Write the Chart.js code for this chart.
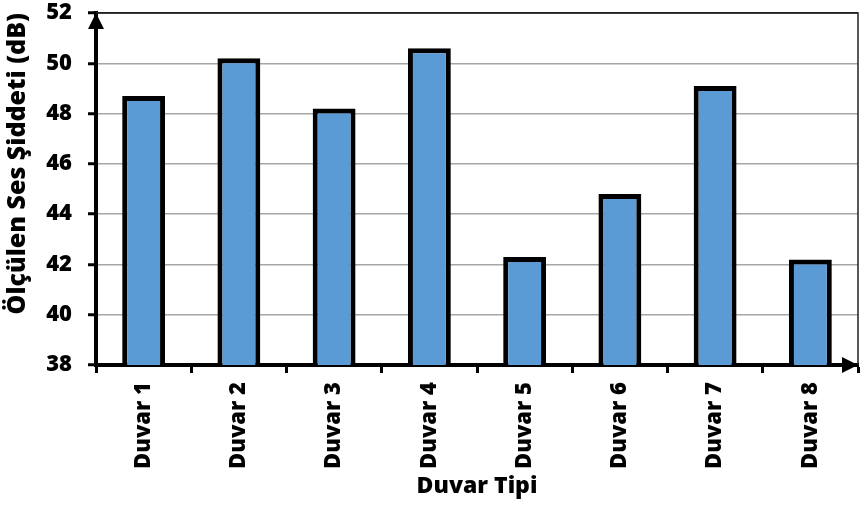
<!DOCTYPE html>
<html>
<head>
<meta charset="utf-8">
<script src="https://cdn.jsdelivr.net/npm/chart.js@4.4.1/dist/chart.umd.min.js"></script>
<style>
  html, body { margin: 0; padding: 0; background: #fff; }
  #wrap { width: 861px; height: 505px; }
</style>
</head>
<body>
<div id="wrap"><canvas id="c" width="861" height="505"></canvas></div>
<script>
// Measured sound level per wall type
const categories = ['Duvar 1', 'Duvar 2', 'Duvar 3', 'Duvar 4', 'Duvar 5', 'Duvar 6', 'Duvar 7', 'Duvar 8'];
const soundLevels = [48.7, 50.2, 48.2, 50.6, 42.3, 44.8, 49.1, 42.2];
const yTicks = [38, 40, 42, 44, 46, 48, 50, 52];
const xTitle = 'Duvar Tipi';
const yTitle = 'Ölçülen Ses Şiddeti (dB)';

const FONT = '"Open Sans", Lato, sans-serif';
const WEIGHT = 800;

// Draws the plot frame and arrowheads at the ends of both axes
const axisArrows = {
  id: 'axisArrows',
  afterDraw(chart) {
    const { ctx, chartArea: a } = chart;
    ctx.save();
    ctx.strokeStyle = '#222';
    ctx.lineWidth = 1.5;
    ctx.beginPath();
    ctx.moveTo(a.left, a.top);
    ctx.lineTo(a.right, a.top);
    ctx.lineTo(a.right, a.bottom);
    ctx.stroke();
    ctx.fillStyle = '#000';
    // y-axis arrow
    ctx.beginPath();
    ctx.moveTo(a.left, a.top);
    ctx.lineTo(a.left - 8, a.top + 16);
    ctx.lineTo(a.left + 8, a.top + 16);
    ctx.closePath();
    ctx.fill();
    // x-axis arrow
    ctx.beginPath();
    ctx.moveTo(a.right, a.bottom);
    ctx.lineTo(a.right - 16, a.bottom - 8);
    ctx.lineTo(a.right - 16, a.bottom + 8);
    ctx.closePath();
    ctx.fill();
    ctx.restore();
  }
};

new Chart(document.getElementById('c'), {
  type: 'bar',
  data: {
    labels: categories,
    datasets: [{
      data: soundLevels,
      backgroundColor: '#5b9bd5',
      borderColor: '#000',
      borderWidth: 5,
      categoryPercentage: 1,
      barPercentage: 0.45
    }]
  },
  options: {
    responsive: false,
    animation: false,
    layout: { padding: { top: 13, right: 3, left: 0, bottom: 0 } },
    plugins: { legend: { display: false }, tooltip: { enabled: false } },
    scales: {
      x: {
        grid: {
          offset: true,
          drawOnChartArea: false,
          drawTicks: true,
          tickLength: 8,
          tickWidth: 3,
          tickColor: '#000'
        },
        border: { color: '#000', width: 4 },
        ticks: {
          color: '#000',
          font: { family: FONT, size: 22, weight: WEIGHT },
          minRotation: 90,
          maxRotation: 90,
          padding: 9,
          autoSkip: false
        },
        title: {
          display: true,
          text: xTitle,
          color: '#000',
          font: { family: FONT, size: 23, weight: WEIGHT },
          padding: { top: 0, bottom: 5 }
        },
        afterFit(scale) {
          scale.height = 140;
          scale.paddingLeft = 0;
          scale.paddingRight = 0;
        }
      },
      y: {
        min: 38,
        max: 52,
        afterBuildTicks(scale) { scale.ticks = yTicks.map(v => ({ value: v })); },
        grid: {
          color: ctx => (ctx.tick && ctx.tick.value === 52 ? '#222' : '#a6a6a6'),
          lineWidth: 1.5,
          tickLength: 8,
          tickWidth: 3,
          tickColor: '#000'
        },
        border: { color: '#000', width: 4 },
        ticks: {
          color: '#000',
          font: { family: FONT, size: 22, weight: WEIGHT },
          padding: 16
        },
        title: {
          display: true,
          text: yTitle,
          align: 'end',
          color: '#000',
          font: { family: FONT, size: 25, weight: WEIGHT },
          padding: { top: 3, bottom: 0 }
        },
        afterFit(scale) {
          scale.width = 96;
          scale.paddingTop = 0;
          scale.paddingBottom = 0;
        }
      }
    }
  },
  plugins: [axisArrows]
});
</script>
</body>
</html>
